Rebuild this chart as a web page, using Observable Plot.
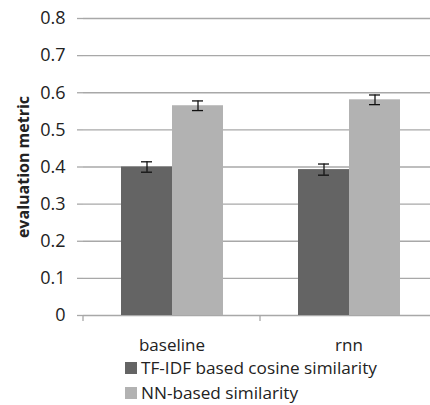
<!DOCTYPE html>
<html>
<head>
<meta charset="utf-8">
<script src="https://cdn.jsdelivr.net/npm/d3@7"></script>
<script src="https://cdn.jsdelivr.net/npm/@observablehq/plot@0.6"></script>
<style>
  html, body { margin: 0; padding: 0; background: #fff; }
  body { width: 430px; height: 405px; overflow: hidden; font-family: "Open Sans", sans-serif; }
  #chart svg { display: block; }
  #legend { position: relative; margin-left: 125px; margin-top: -2px; }
  .item { display: flex; align-items: center; height: 20px; margin-bottom: 5px; font-size: 17.2px; line-height: 20px; color: #222; }
  .sw { width: 12px; height: 12px; margin-right: 4px; display: inline-block; }
</style>
</head>
<body>
<div id="chart"></div>
<div id="legend"></div>
<script>
const categories = ["baseline", "rnn"];
const series = ["TF-IDF based cosine similarity", "NN-based similarity"];
const colors = ["#646464", "#b2b2b2"];
const tfidfValues = [0.400, 0.393];
const tfidfErrors = [0.014, 0.015];
const nnValues = [0.565, 0.581];
const nnErrors = [0.013, 0.013];
const yTicks = [0, 0.1, 0.2, 0.3, 0.4, 0.5, 0.6, 0.7, 0.8];

const data = [];
categories.forEach((c, i) => {
  data.push({category: c, series: series[0], value: tfidfValues[i], err: tfidfErrors[i]});
  data.push({category: c, series: series[1], value: nnValues[i], err: nnErrors[i]});
});

const grid = "#a8a8a8";

const chart = Plot.plot({
  width: 430,
  height: 360,
  marginLeft: 82,
  marginRight: -7,
  marginTop: 18,
  marginBottom: 45,
  style: {fontFamily: "'Open Sans', sans-serif", color: "#222", background: "transparent", overflow: "hidden"},
  fx: {domain: categories, padding: 0, label: null, axis: null},
  x: {domain: series, paddingInner: 0, paddingOuter: 0.735, axis: null},
  y: {domain: [0, 0.8], label: null},
  color: {domain: series, range: colors},
  marks: [
    Plot.gridY(yTicks, {stroke: grid, strokeOpacity: 1, strokeWidth: 1.3}),
    Plot.axisY({ticks: yTicks, tickFormat: d => d === 0 ? "0" : d3.format(".1f")(d), tickSize: 6, tickPadding: 12, stroke: grid, strokeWidth: 1.3, fontSize: 18, label: null, line: true}),
    Plot.axisY({ticks: [], label: "evaluation metric", labelAnchor: "center", labelArrow: "none", labelOffset: 66, fontSize: 16, fontWeight: "bold"}),
    Plot.axisFx({anchor: "bottom", tickSize: 0, tickPadding: 23, fontSize: 17, label: null}),
    (index, scales, values, dimensions) => {
      const y0 = scales.y(0);
      const g = d3.create("svg:g");
      g.append("line")
        .attr("x1", dimensions.marginLeft).attr("x2", dimensions.marginLeft)
        .attr("y1", y0).attr("y2", y0 + 6)
        .attr("stroke", grid).attr("stroke-width", 1.3);
      return g.node();
    },
    Plot.barY(data, {fx: "category", x: "series", y: "value", fill: "series"}),
    Plot.ruleX(data, {fx: "category", x: "series", y1: d => d.value - d.err, y2: d => d.value + d.err, stroke: "#111", strokeWidth: 1.3}),
    Plot.tickY(data, {fx: "category", x: "series", y: d => d.value - d.err, stroke: "#111", strokeWidth: 1.3, insetLeft: 20, insetRight: 20}),
    Plot.tickY(data, {fx: "category", x: "series", y: d => d.value + d.err, stroke: "#111", strokeWidth: 1.3, insetLeft: 20, insetRight: 20})
  ]
});
document.getElementById("chart").appendChild(chart);

const legend = document.getElementById("legend");
series.forEach((s, i) => {
  const item = document.createElement("div");
  item.className = "item";
  const sw = document.createElement("span");
  sw.className = "sw";
  sw.style.background = colors[i];
  item.appendChild(sw);
  item.appendChild(document.createTextNode(s));
  legend.appendChild(item);
});
</script>
</body>
</html>
